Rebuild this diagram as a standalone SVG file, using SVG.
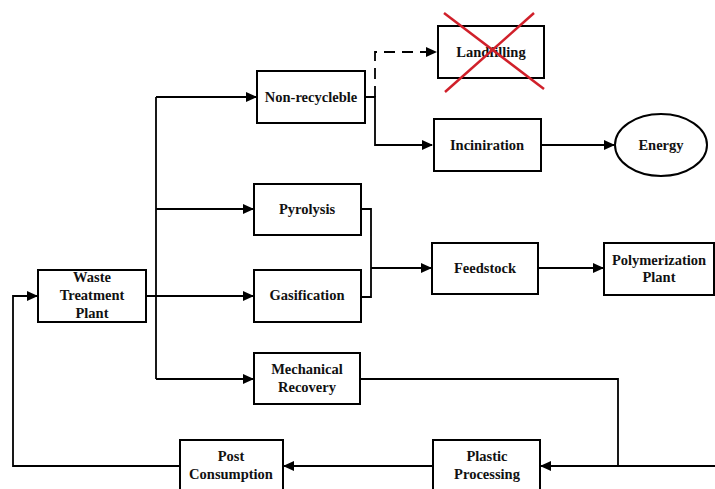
<svg xmlns="http://www.w3.org/2000/svg" width="715" height="489" viewBox="0 0 715 489">
<style>
.box{fill:#fff;stroke:#000;stroke-width:2}
.ln{fill:none;stroke:#000;stroke-width:1.8}
.dash{fill:none;stroke:#000;stroke-width:1.8;stroke-dasharray:11,7}
text{font-family:"Liberation Serif","Times New Roman",serif;font-weight:bold;font-size:14.5px;text-anchor:middle;fill:#111}
.x{stroke:#d0202a;stroke-width:2.5}
</style>
<defs>
<marker id="ah" markerWidth="11" markerHeight="10" refX="10" refY="5" orient="auto" markerUnits="userSpaceOnUse">
<path d="M0,0 L11,5 L0,10 Z" fill="#000"/>
</marker>
</defs>
<rect width="715" height="489" fill="#fff"/>
<g id="connectors">
<path class="ln" d="M146,296 H253" marker-end="url(#ah)"/>
<path class="ln" d="M156,97 V379" />
<path class="ln" d="M156,97 H256" marker-end="url(#ah)"/>
<path class="ln" d="M156,209 H253" marker-end="url(#ah)"/>
<path class="ln" d="M156,379 H253" marker-end="url(#ah)"/>
<path class="ln" d="M365,97 H375 V145 H432" marker-end="url(#ah)"/>
<path class="dash" d="M375,97 V52 H436" marker-end="url(#ah)"/>
<path class="ln" d="M541,145 H614" marker-end="url(#ah)"/>
<path class="ln" d="M361,209 H371 V297 H361"/>
<path class="ln" d="M371,268 H431" marker-end="url(#ah)"/>
<path class="ln" d="M538,268 H603" marker-end="url(#ah)"/>
<path class="ln" d="M360,379 H618 V466"/>
<path class="ln" d="M715,466 H541" marker-end="url(#ah)"/>
<path class="ln" d="M433,466 H284" marker-end="url(#ah)"/>
<path class="ln" d="M180,466 H13 V296 H37" marker-end="url(#ah)"/>
</g>
<g id="waste">
<rect class="box" x="38" y="270" width="108" height="52"/>
<text x="92" y="282">Waste</text>
<text x="92" y="300">Treatment</text>
<text x="92" y="318">Plant</text>
</g>
<g id="nonrecycleble">
<rect class="box" x="257" y="71" width="108" height="52"/>
<text x="311" y="102">Non-recycleble</text>
</g>
<g id="landfilling">
<rect class="box" x="438" y="26" width="106" height="52"/>
<text x="491" y="57">Landfilling</text>
<line class="x" x1="444" y1="13" x2="544" y2="89"/>
<line class="x" x1="534" y1="13" x2="445" y2="92"/>
</g>
<g id="incineration">
<rect class="box" x="434" y="119" width="107" height="52"/>
<text x="487" y="150">Inciniration</text>
</g>
<g id="energy">
<ellipse class="box" cx="661" cy="145" rx="46" ry="31"/>
<text x="661" y="150">Energy</text>
</g>
<g id="pyrolysis">
<rect class="box" x="254" y="184" width="107" height="51"/>
<text x="307" y="214">Pyrolysis</text>
</g>
<g id="gasification">
<rect class="box" x="254" y="270" width="107" height="52"/>
<text x="307" y="300">Gasification</text>
</g>
<g id="feedstock">
<rect class="box" x="432" y="243" width="106" height="51"/>
<text x="485" y="273">Feedstock</text>
</g>
<g id="polymerization">
<rect class="box" x="604" y="243" width="110" height="52"/>
<text x="659" y="265">Polymerization</text>
<text x="659" y="282">Plant</text>
</g>
<g id="mechanical">
<rect class="box" x="254" y="353" width="106" height="51"/>
<text x="307" y="374">Mechanical</text>
<text x="307" y="392">Recovery</text>
</g>
<g id="plastic">
<rect class="box" x="433" y="440" width="107" height="55"/>
<text x="487" y="461">Plastic</text>
<text x="487" y="479">Processing</text>
</g>
<g id="post">
<rect class="box" x="180" y="440" width="103" height="55"/>
<text x="231" y="461">Post</text>
<text x="231" y="479">Consumption</text>
</g>
</svg>
